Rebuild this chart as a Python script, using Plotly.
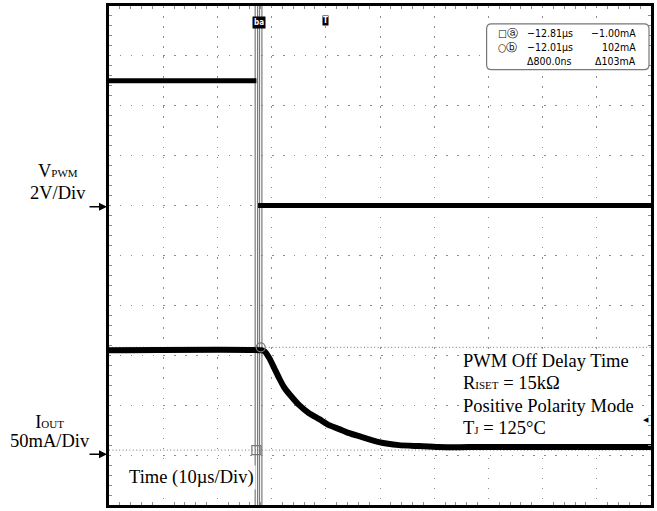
import plotly.graph_objects as go

# time base: microseconds relative to trigger, 10 us/div
t_range = [-40, 60]

# VPWM trace (V), 2 V/div, ground at 6th division
v_t = [-40, -12.8, None, -12.5, 60]
v_val = [5.0, 5.0, None, 0.0, 0.0]
v_range = [-12, 8]

# IOUT trace (mA), 50 mA/div
i_t = [-40, -11.9, -11.3, -10.4, -9.5, -8.6, -7.7, -6.7, -4.9, -3.1, -1.2,
       0.6, 2.5, 4.3, 6.1, 9.8, 13.5, 17.2, 20.8, 26.4, 60]
i_val = [99, 99, 98, 91, 81, 71, 62, 55, 44, 36, 30,
         24, 20, 16, 13, 7, 4, 3, 2, 2, 2]
i_range = [-56, 444]

# cursors
cur_t = [-12.81, -12.01]
cur_i = [-1.00, 102]

SERIF = "Liberation Serif, Times New Roman, serif"
NARROW = "DejaVu Sans Condensed, Liberation Sans Narrow, sans-serif"
GRID = "#8c8c8c"


def px_x(px):
    return (px - 109) / 544


def px_y(py):
    return (505 - py) / 502


fig = go.Figure()

fig.add_trace(go.Scatter(x=v_t, y=v_val, mode="lines", yaxis="y",
                         line=dict(color="black", width=5), hoverinfo="skip"))
fig.add_trace(go.Scatter(x=i_t, y=i_val, mode="lines", yaxis="y2",
                         line=dict(color="black", width=6, shape="spline", smoothing=0.5),
                         hoverinfo="skip"))
# cursor markers
fig.add_trace(go.Scatter(x=[cur_t[0]], y=[cur_i[0]], mode="markers", yaxis="y2",
                         marker=dict(symbol="square-open", size=9, color="#777",
                                     line=dict(width=1.2)), hoverinfo="skip"))
fig.add_trace(go.Scatter(x=[cur_t[1]], y=[cur_i[1]], mode="markers", yaxis="y2",
                         marker=dict(symbol="circle-open", size=9, color="#777",
                                     line=dict(width=1.2)), hoverinfo="skip"))

# vertical cursor bars (hollow double lines)
for t in cur_t:
    fig.add_shape(type="line", xref="x", yref="paper", x0=t, x1=t, y0=0, y1=1,
                  line=dict(color="#7a7a7a", width=3.6), layer="between")
    fig.add_shape(type="line", xref="x", yref="paper", x0=t, x1=t, y0=0, y1=1,
                  line=dict(color="white", width=1.2), layer="between")
# horizontal cursor lines
for lvl in cur_i:
    fig.add_shape(type="line", xref="paper", yref="y2", x0=0, x1=1, y0=lvl, y1=lvl,
                  line=dict(color="#777", width=1, dash="1px,2.4px"), layer="between")

# readout box
bx0, bx1, by0, by1 = px_x(488), px_x(651), px_y(67), px_y(21)
rx, ry = 0.009, 0.01
fig.add_shape(type="path", xref="paper", yref="paper", layer="above",
              path=(f"M{bx0+rx},{by1} L{bx1-rx},{by1} Q{bx1},{by1} {bx1},{by1-ry} "
                    f"L{bx1},{by0+ry} Q{bx1},{by0} {bx1-rx},{by0} "
                    f"L{bx0+rx},{by0} Q{bx0},{by0} {bx0},{by0+ry} "
                    f"L{bx0},{by1-ry} Q{bx0},{by1} {bx0+rx},{by1} Z"),
              fillcolor="white", line=dict(color="#777", width=1.2))

ann = []


def txt(text, x, y, size=18.5, xanchor="center", font=SERIF, bg=None, align="center"):
    d = dict(text=text, x=px_x(x), y=px_y(y), xref="paper", yref="paper",
             showarrow=False, xanchor=xanchor, yanchor="middle", align=align,
             font=dict(family=font, size=size, color="black"))
    if bg:
        d["bgcolor"] = bg
    ann.append(d)


def big(s):
    return f"<span style='font-size:18.5px'>{s}</span>"


def small(s):
    return f"<span style='font-size:11px'>{s}</span>"


dt_ns = (cur_t[1] - cur_t[0]) * 1000
di = cur_i[1] - cur_i[0]
rows = [
    ("□ⓐ", f"−{abs(cur_t[0]):.2f}µs", f"−{abs(cur_i[0]):.2f}mA", 30),
    ("○ⓑ", f"−{abs(cur_t[1]):.2f}µs", f"{cur_i[1]:.0f}mA", 44),
    ("", f"Δ{dt_ns:.1f}ns", f"Δ{di:.0f}mA", 58),
]
for sym, tv, iv, yy in rows:
    if sym:
        txt(sym, 497, yy, size=10.5, xanchor="left", font=NARROW)
    txt(tv, 527, yy, size=10.5, xanchor="left", font=NARROW)
    txt(iv, 640, yy, size=10.5, xanchor="right", font=NARROW)

# left channel labels (base size sets the line pitch, spans set glyph size)
txt(big("V") + small("PWM") + "<br>" + big("2V/Div"), 58, 180, size=17)
txt(big("I") + small("OUT") + "<br>" + big("50mA/Div"), 50, 431, size=14.5)
for yy in (205, 454):
    ann.append(dict(text="", x=px_x(107), y=px_y(yy), xref="paper", yref="paper",
                    ax=-19, ay=0, showarrow=True, arrowhead=2, arrowsize=1,
                    arrowwidth=1.6, arrowcolor="black", standoff=0))

txt("Time (10µs/Div)", 127, 477, xanchor="left", bg="white")

# condition text
cond = "<br>".join([
    big("PWM Off Delay Time"),
    big("R") + small("ISET") + big(" = 15kΩ"),
    big("Positive Polarity Mode"),
    big("T") + small("J") + big(" = 125°C"),
])
txt(cond, 462, 394, size=17.2, xanchor="left", bg="white", align="left")

# scope marks on top edge
ann.append(dict(text="<b>ba</b>", x=(cur_t[0] + cur_t[1]) / 2, y=px_y(13), xref="x",
                yref="paper", showarrow=False, bgcolor="black", borderpad=1,
                font=dict(family=NARROW, size=8, color="white")))
ann.append(dict(text="<b>T</b>", x=0, y=px_y(12), xref="x", yref="paper",
                showarrow=False, bgcolor="black", borderpad=0,
                font=dict(family=NARROW, size=8, color="white")))
ann.append(dict(text="◀", x=1, y=px_y(426), xref="paper", yref="paper",
                xanchor="right", showarrow=False, font=dict(size=7, color="black")))

tick_common = dict(showticklabels=False, zeroline=False, showgrid=False)

fig.update_layout(
    width=657, height=511,
    margin=dict(l=109, r=4, t=3, b=6),
    paper_bgcolor="white", plot_bgcolor="white",
    showlegend=False,
    annotations=ann,
    xaxis=dict(range=t_range, tick0=0, dtick=10, showgrid=True, gridcolor=GRID,
               gridwidth=1, griddash="1.5px,8.54px", zeroline=False,
               showticklabels=False, ticks="", showline=True, linecolor="black",
               linewidth=2.5, mirror="ticks",
               minor=dict(dtick=2, tick0=0, ticks="inside", ticklen=3,
                          tickcolor=GRID, showgrid=False)),
    yaxis=dict(range=v_range, tick0=0, dtick=2, showgrid=True, gridcolor=GRID,
               gridwidth=1, griddash="1.5px,9.38px", zeroline=False,
               showticklabels=False, ticks="", showline=True, linecolor="black",
               linewidth=2.5, mirror="ticks",
               minor=dict(dtick=0.4, tick0=0, ticks="inside", ticklen=3,
                          tickcolor=GRID, showgrid=False)),
    yaxis2=dict(range=i_range, overlaying="y", visible=False),
    # center graticule tick marks
    xaxis2=dict(range=t_range, overlaying="x", anchor="free", position=0.5,
                dtick=2, tick0=0, ticks="outside", ticklen=2.5, tickcolor=GRID,
                **tick_common),
    xaxis3=dict(range=t_range, overlaying="x", anchor="free", position=0.5,
                dtick=2, tick0=0, ticks="inside", ticklen=2.5, tickcolor=GRID,
                **tick_common),
    yaxis3=dict(range=v_range, overlaying="y", anchor="free", position=0.5,
                dtick=0.4, tick0=0, ticks="outside", ticklen=2.5, tickcolor=GRID,
                **tick_common),
    yaxis4=dict(range=v_range, overlaying="y", anchor="free", position=0.5,
                dtick=0.4, tick0=0, ticks="inside", ticklen=2.5, tickcolor=GRID,
                **tick_common),
)

fig.write_html("out.html", config={"displayModeBar": False},
               post_script="document.body.style.margin = '0px';")
